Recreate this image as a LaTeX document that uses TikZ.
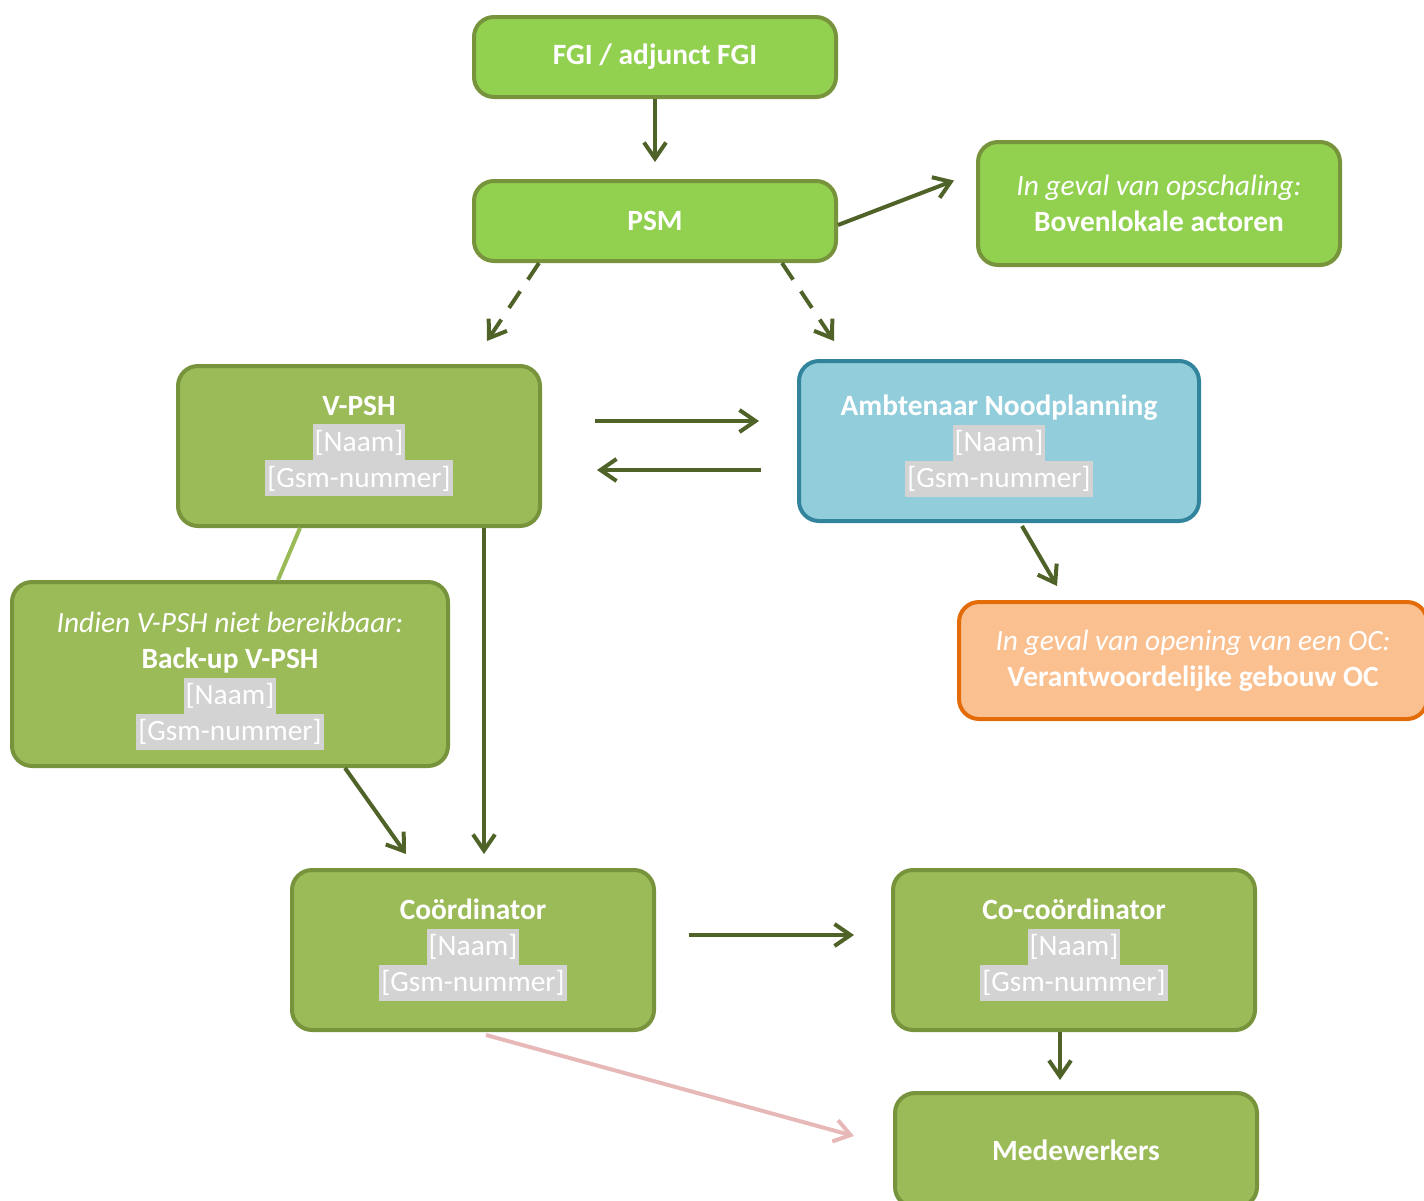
\documentclass[tikz,border=0pt]{standalone}
\usepackage{fontspec}
\setmainfont{Carlito}
\usepackage{xcolor}
\usetikzlibrary{arrows.meta}
\definecolor{lichtgroen}{HTML}{92D050}
\definecolor{groen}{HTML}{9BBB59}
\definecolor{randgroen}{HTML}{77933C}
\definecolor{pijlgroen}{HTML}{4F6228}
\definecolor{blauw}{HTML}{92CDDC}
\definecolor{randblauw}{HTML}{31849B}
\definecolor{oranje}{HTML}{FAC090}
\definecolor{randoranje}{HTML}{E36C09}
\definecolor{roze}{HTML}{E6B9B8}
\definecolor{grijs}{HTML}{D3D3D3}
\newcommand{\invul}[1]{{\setlength{\fboxsep}{0pt}\colorbox{grijs}{\rule[-4.5pt]{0pt}{18pt}\hspace{1pt}#1\hspace{1pt}}}}
\tikzstyle{kader} = [rectangle, rounded corners=10pt, line width=2pt, text=white, align=center, inner sep=0pt, font=\fontsize{14.7}{18}\selectfont]
\tikzstyle{fel} = [kader, draw=randgroen, fill=lichtgroen, minimum width=181pt]
\tikzstyle{rol} = [kader, draw=randgroen, fill=groen, minimum width=181pt]
\tikzset{
  noodplan/.style={kader, draw=randblauw, fill=blauw},
  gebouw/.style={kader, draw=randoranje, fill=oranje}
}
\tikzstyle{arrow} = [line width=2pt, draw=pijlgroen, -{Straight Barb[length=8pt,width=11pt]}]

\begin{document}
\begin{tikzpicture}[x=0.5pt, y=-0.5pt]
    \useasboundingbox (0,0) rectangle (1424,1200);
    \node (fgi)[fel, minimum height=40pt] at (655,57) {\textbf{FGI / adjunct FGI}};
    \node (psm)[fel, minimum height=40pt] at (655,221) {\textbf{PSM}};
    \node (boven)[fel, minimum height=61.5pt] at (1159,203.5) {\textit{In geval van opschaling:}\\\textbf{Bovenlokale actoren}};
    \node (vpsh)[rol, minimum height=80pt] at (359,446) {\textbf{V-PSH}\\\invul{[Naam]}\\\invul{[Gsm-nummer]}};
    \node (amb)[noodplan, minimum width=200pt, minimum height=80pt] at (999,441) {\rule{0pt}{15pt}\textbf{Ambtenaar Noodplanning}\\\invul{[Naam]}\\\invul{[Gsm-nummer]}};
    \node (oc)[gebouw, minimum width=234pt, minimum height=58.5pt] at (1193,660.5) {\textit{In geval van opening van een OC:}\\\textbf{Verantwoordelijke gebouw OC}};
    \node (backup)[rol, minimum width=218pt, minimum height=92pt] at (230,674) {\rule{0pt}{17pt}\textit{Indien V-PSH niet bereikbaar:}\\\textbf{Back-up V-PSH}\\\invul{[Naam]}\\\invul{[Gsm-nummer]}};
    \node (coord)[rol, minimum height=80pt] at (473,950) {\textbf{Coördinator}\\\invul{[Naam]}\\\invul{[Gsm-nummer]}};
    \node (cocoord)[rol, minimum height=80pt] at (1074,950) {\textbf{Co-coördinator}\\\invul{[Naam]}\\\invul{[Gsm-nummer]}};
    \node (mede)[rol, minimum height=57pt] at (1076,1150) {\textbf{Medewerkers}};

    \draw[arrow, shorten >=8.5pt] (fgi) -- (psm);
    \draw[arrow] ([yshift=-2pt]psm.east) -- ([xshift=-11pt,yshift=11.5pt]boven.west);
    \draw[arrow, dash pattern=on 10pt off 7pt] ([xshift=33.5pt]psm.south west) -- ([xshift=64pt,yshift=11.5pt]vpsh.north);
    \draw[arrow, dash pattern=on 10pt off 7pt] ([xshift=-28pt]psm.south east) -- ([xshift=18.5pt,yshift=9pt]amb.north west);
    \draw[arrow] ([xshift=26.5pt,yshift=12.5pt]vpsh.east) -- ([xshift=-19pt,yshift=10pt]amb.west);
    \draw[arrow] ([xshift=-18pt,yshift=-14.5pt]amb.west) -- ([xshift=27.5pt,yshift=-12pt]vpsh.east);
    \draw[arrow] ([xshift=11.5pt,yshift=-1.5pt]amb.south) -- ([xshift=50pt,yshift=7pt]oc.north west);
    \draw[line width=2pt, draw=groen] ([xshift=-29.5pt]vpsh.south) -- ([xshift=24pt]backup.north);
    \draw[arrow] ([xshift=5.5pt]coord.north |- vpsh.south) -- ([xshift=5.5pt,yshift=7pt]coord.north);
    \draw[arrow] ([xshift=57.5pt]backup.south) -- ([xshift=58pt,yshift=7pt]coord.north west);
    \draw[arrow] ([xshift=16.5pt,yshift=7.5pt]coord.east) -- ([xshift=-18.5pt,yshift=7.5pt]cocoord.west);
    \draw[arrow] ([xshift=-7pt]cocoord.south) -- ([xshift=-8pt,yshift=5.5pt]mede.north);
    \draw[arrow, draw=roze] ([xshift=6.5pt,yshift=-1.5pt]coord.south) -- ([xshift=-19.5pt,yshift=7pt]mede.west);
\end{tikzpicture}
\end{document}
